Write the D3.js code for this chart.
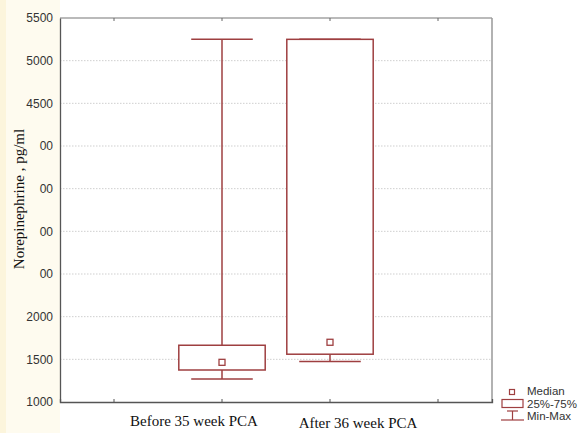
<!DOCTYPE html>
<html><head><meta charset="utf-8">
<script src="https://cdn.jsdelivr.net/npm/d3@7"></script>
<style>body{margin:0;background:#fff}svg{display:block}</style>
</head><body>
<script>
const categories = ["Before 35 week PCA", "After 36 week PCA"];
const minVals = [1270, 1475];
const q1Vals = [1375, 1560];
const medianVals = [1465, 1700];
const q3Vals = [1665, 5250];
const maxVals = [5250, 5250];
const yTickValues = [1000,1500,2000,2500,3000,3500,4000,4500,5000,5500];
const yTickLabels = ["1000","1500","2000","00","00","00","00","4500","5000","5500"];
const legendLabels = ["Median","25%-75%","Min-Max"];

const W=581,H=433;
const svg=d3.select("body").append("svg").attr("width",W).attr("height",H);
svg.append("rect").attr("width",W).attr("height",H).attr("fill","#fff");
svg.append("rect").attr("x",0).attr("y",0).attr("width",60).attr("height",H).attr("fill","#fefbef");
svg.append("rect").attr("x",0).attr("y",0).attr("width",6).attr("height",H).attr("fill","#fcf5dc");

const L=60,R=492,T=18,B=402;
const x=d3.scaleBand().domain(["_a",...categories,"_b"]).range([L,R]).padding(0);
const y=d3.scaleLinear().domain([1000,5500]).range([B,T]);
const col="#9e3f40";

// gridlines
svg.append("g").selectAll("line").data(yTickValues.filter(v=>v>1000&&v<5500)).join("line")
 .attr("x1",L).attr("x2",R).attr("y1",d=>y(d)).attr("y2",d=>y(d))
 .attr("stroke","#cfcfcf").attr("stroke-dasharray","1.5,1.5").attr("stroke-width",1);

// frame top/right
svg.append("line").attr("x1",L).attr("x2",R).attr("y1",T).attr("y2",T).attr("stroke","#777").attr("stroke-width",1.2);
svg.append("line").attr("x1",R).attr("x2",R).attr("y1",T).attr("y2",B).attr("stroke","#999").attr("stroke-width",1.5);

// axes
const yAxis=d3.axisLeft(y).tickValues(yTickValues).tickSize(0).tickPadding(7)
 .tickFormat((d,i)=>yTickLabels[i]);
const gy=svg.append("g").attr("transform",`translate(${L},0)`).call(yAxis);
gy.select(".domain").attr("stroke","#555").attr("stroke-width",1.3);
gy.selectAll("text").attr("font-family","Liberation Sans, Arial, sans-serif").attr("font-size",12).attr("fill","#333");

const xAxis=d3.axisBottom(x).tickSize(-3).tickFormat("");
const gx=svg.append("g").attr("transform",`translate(0,${B})`).call(xAxis);
gx.select(".domain").attr("stroke","#555").attr("stroke-width",1.3);
gx.selectAll(".tick line").attr("stroke","#555");
const xTop=d3.axisTop(x).tickSize(-3).tickFormat("");
const gt=svg.append("g").attr("transform",`translate(0,${T})`).call(xTop);
gt.select(".domain").remove();
gt.selectAll(".tick line").attr("stroke","#666");

// x labels
const labelDx=[-28,28], labelY=[426,428];
svg.append("g").selectAll("text").data(categories).join("text")
 .attr("x",(d,i)=>x(d)+x.bandwidth()/2+labelDx[i]).attr("y",(d,i)=>labelY[i])
 .attr("text-anchor","middle").attr("font-family","Liberation Serif, Times New Roman, serif")
 .attr("font-size",15).attr("fill","#111").text(d=>d);

// y title
svg.append("text").attr("transform","translate(24,199) rotate(-90)").attr("text-anchor","middle")
 .attr("font-family","Liberation Serif, Times New Roman, serif").attr("font-size",15).attr("fill","#111")
 .text("Norepinephrine , pg/ml");

// boxes
const bw=x.bandwidth(), boxW=bw*0.8, capW=bw*0.57;
const g=svg.append("g");
categories.forEach((c,i)=>{
  const cx=x(c)+bw/2;
  const ln=(x1,y1,x2,y2)=>g.append("line").attr("x1",x1).attr("y1",y1).attr("x2",x2).attr("y2",y2).attr("stroke",col).attr("stroke-width",1.5);
  ln(cx,y(maxVals[i]),cx,y(q3Vals[i]));
  ln(cx,y(q1Vals[i]),cx,y(minVals[i]));
  ln(cx-capW/2,y(maxVals[i]),cx+capW/2,y(maxVals[i]));
  ln(cx-capW/2,y(minVals[i]),cx+capW/2,y(minVals[i]));
  g.append("rect").attr("x",cx-boxW/2).attr("y",y(q3Vals[i])).attr("width",boxW)
   .attr("height",y(q1Vals[i])-y(q3Vals[i])).attr("fill","#fff").attr("stroke",col).attr("stroke-width",1.5);
  g.append("rect").attr("x",cx-3).attr("y",y(medianVals[i])-3).attr("width",6).attr("height",6)
   .attr("fill","#fff").attr("stroke",col).attr("stroke-width",1.3);
});

// legend
const lg=svg.append("g");
lg.append("rect").attr("x",509.5).attr("y",389.5).attr("width",5).attr("height",5).attr("fill","#fff").attr("stroke",col).attr("stroke-width",1.2);
lg.append("rect").attr("x",502).attr("y",399.5).attr("width",21).attr("height",8).attr("fill","#fff").attr("stroke",col).attr("stroke-width",1.2);
lg.append("line").attr("x1",507).attr("x2",518).attr("y1",411).attr("y2",411).attr("stroke",col).attr("stroke-width",1.2);
lg.append("line").attr("x1",512.5).attr("x2",512.5).attr("y1",411).attr("y2",420).attr("stroke",col).attr("stroke-width",1.2);
lg.append("line").attr("x1",501).attr("x2",524).attr("y1",420).attr("y2",420).attr("stroke",col).attr("stroke-width",1.2);
lg.selectAll("text").data(legendLabels).join("text").attr("x",527).attr("y",(d,i)=>392+i*12.5)
 .attr("dominant-baseline","middle").attr("font-family","Liberation Sans, Arial, sans-serif")
 .attr("font-size",11.5).attr("fill","#333").text(d=>d);
</script>
</body></html>
